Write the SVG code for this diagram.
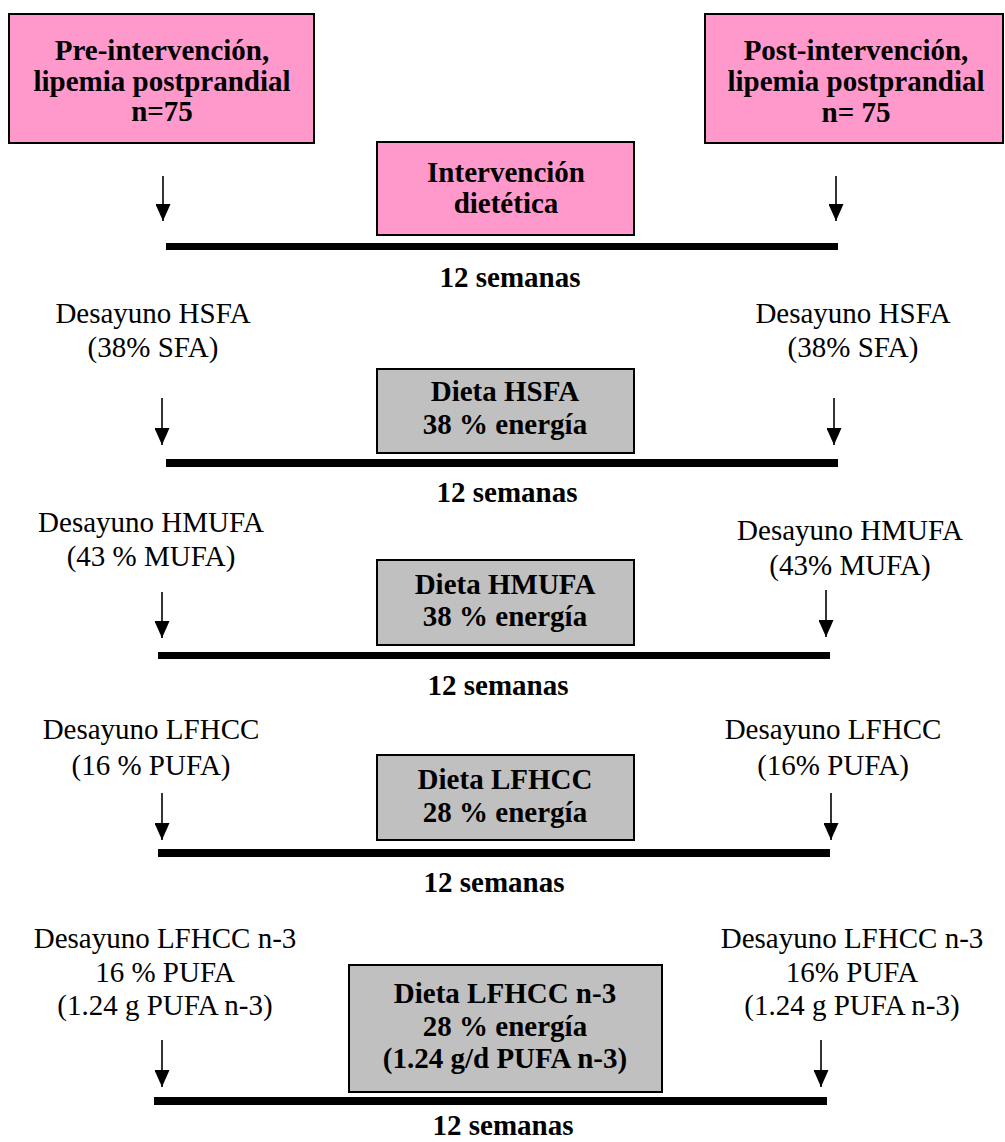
<svg xmlns="http://www.w3.org/2000/svg" width="1005" height="1142" viewBox="0 0 1005 1142">
<style>
.pink{fill:#FF99CC;stroke:#000;stroke-width:2}
.gray{fill:#C0C0C0;stroke:#000;stroke-width:2}
text{font-family:"Liberation Serif","Times New Roman",serif;font-size:29px;fill:#000;text-anchor:middle}
.b{font-weight:bold}
.arr{stroke:#000;stroke-width:1.6;fill:none;marker-end:url(#ah)}
.bar{fill:#000}
</style>
<defs>
<marker id="ah" markerUnits="userSpaceOnUse" viewBox="0 0 17 15" markerWidth="17" markerHeight="15" refX="17" refY="7.5" orient="auto">
<path d="M0,0 L17,7.5 L0,15 z" fill="#000"/>
</marker>
</defs>
<rect width="1005" height="1142" fill="#fff"/>

<g id="pre">
<rect class="pink" x="9" y="14" width="305" height="129"/>
<text class="b" x="162" y="60">Pre-intervención,</text>
<text class="b" x="162" y="91">lipemia postprandial</text>
<text class="b" x="162" y="121">n=75</text>
</g>
<g id="post">
<rect class="pink" x="705" y="14" width="298" height="129"/>
<text class="b" x="856" y="60">Post-intervención,</text>
<text class="b" x="856" y="91">lipemia postprandial</text>
<text class="b" x="856" y="122">n= 75</text>
</g>
<g id="intervencion">
<rect class="pink" x="377" y="142" width="257" height="93"/>
<text class="b" x="506" y="182">Intervención</text>
<text class="b" x="506" y="213">dietética</text>
</g>
<text class="b" x="510" y="287">12 semanas</text>

<g id="hsfa-pre">
<text x="153" y="323">Desayuno HSFA</text>
<text x="153" y="357">(38% SFA)</text>
</g>
<g id="hsfa-post">
<text x="853" y="323">Desayuno HSFA</text>
<text x="853" y="357">(38% SFA)</text>
</g>
<g id="dieta-hsfa">
<rect class="gray" x="377" y="369" width="257" height="84"/>
<text class="b" x="505" y="401">Dieta HSFA</text>
<text class="b" x="505" y="434">38 % energía</text>
</g>
<text class="b" x="507" y="502">12 semanas</text>

<g id="hmufa-pre">
<text x="151" y="532">Desayuno HMUFA</text>
<text x="151" y="566">(43 % MUFA)</text>
</g>
<g id="hmufa-post">
<text x="850" y="540">Desayuno HMUFA</text>
<text x="850" y="575">(43% MUFA)</text>
</g>
<g id="dieta-hmufa">
<rect class="gray" x="377" y="560" width="257" height="85"/>
<text class="b" x="505" y="594">Dieta HMUFA</text>
<text class="b" x="505" y="626">38 % energía</text>
</g>
<text class="b" x="498" y="695">12 semanas</text>

<g id="lfhcc-pre">
<text x="151" y="739">Desayuno LFHCC</text>
<text x="151" y="775">(16 % PUFA)</text>
</g>
<g id="lfhcc-post">
<text x="833" y="739">Desayuno LFHCC</text>
<text x="833" y="775">(16% PUFA)</text>
</g>
<g id="dieta-lfhcc">
<rect class="gray" x="377" y="755" width="257" height="85"/>
<text class="b" x="505" y="789">Dieta LFHCC</text>
<text class="b" x="505" y="822">28 % energía</text>
</g>
<text class="b" x="494" y="892">12 semanas</text>

<g id="n3-pre">
<text x="165" y="948">Desayuno LFHCC n-3</text>
<text x="165" y="982">16 % PUFA</text>
<text x="165" y="1015">(1.24 g PUFA n-3)</text>
</g>
<g id="n3-post">
<text x="852" y="948">Desayuno LFHCC n-3</text>
<text x="852" y="982">16% PUFA</text>
<text x="852" y="1015">(1.24 g PUFA n-3)</text>
</g>
<g id="dieta-n3">
<rect class="gray" x="349" y="965" width="313" height="127"/>
<text class="b" x="505" y="1003">Dieta LFHCC n-3</text>
<text class="b" x="505" y="1036">28 % energía</text>
<text class="b" x="505" y="1068">(1.24 g/d PUFA n-3)</text>
</g>
<text class="b" x="503" y="1135">12 semanas</text>

<g id="connectors">
<line class="arr" x1="163" y1="176" x2="163" y2="221"/>
<line class="arr" x1="836" y1="176" x2="836" y2="221"/>
<rect class="bar" x="166" y="243" width="672" height="7"/>

<line class="arr" x1="162" y1="398" x2="162" y2="445"/>
<line class="arr" x1="834" y1="398" x2="834" y2="445"/>
<rect class="bar" x="166" y="459" width="672" height="8"/>

<line class="arr" x1="162" y1="592" x2="162" y2="638"/>
<line class="arr" x1="826" y1="590" x2="826" y2="637"/>
<rect class="bar" x="158" y="652" width="672" height="7"/>

<line class="arr" x1="162" y1="793" x2="162" y2="840"/>
<line class="arr" x1="831" y1="793" x2="831" y2="840"/>
<rect class="bar" x="158" y="849" width="672" height="8"/>

<line class="arr" x1="162" y1="1040" x2="162" y2="1087"/>
<line class="arr" x1="821" y1="1040" x2="821" y2="1087"/>
<rect class="bar" x="154" y="1097" width="673" height="8"/>
</g>
</svg>
